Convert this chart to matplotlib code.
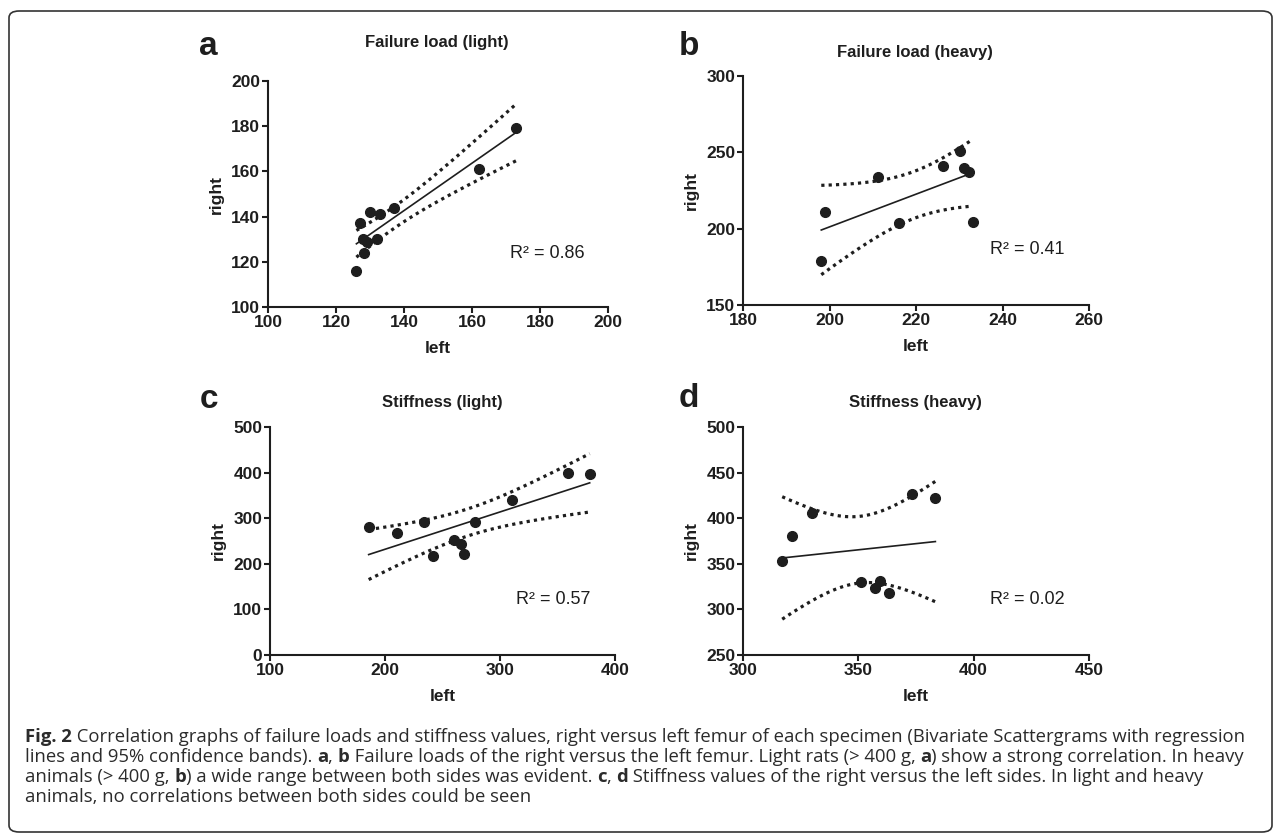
import numpy as np
import matplotlib
matplotlib.use("Agg")
import matplotlib.pyplot as plt
from matplotlib.patches import FancyBboxPatch
from matplotlib import font_manager

# ---- data ----
a_left = [126, 127, 128, 128.1, 129.2, 130, 132, 133, 137, 162, 173]
a_right = [116, 137, 130, 124, 128.8, 142, 130, 141, 144, 161, 179]

b_left = [198.1, 199.0, 211.1, 216.1, 226.2, 230.2, 231.0, 232.3, 233.1]
b_right = [178.8, 210.7, 233.8, 203.7, 240.8, 250.9, 240.0, 236.9, 204.6]

c_left = [185.8, 210.7, 233.9, 242, 260, 266, 269, 278, 310, 359, 378]
c_right = [281, 267, 292, 217, 252, 243, 221, 292, 339, 399, 396]

d_left = [317, 321.1, 330.1, 351, 357.2, 359.2, 363.3, 373.1, 383.4]
d_right = [353, 381, 405.5, 330, 323.5, 331, 317.5, 426, 422]

titles = ["Failure load (light)", "Failure load (heavy)", "Stiffness (light)", "Stiffness (heavy)"]
letters = ["a", "b", "c", "d"]
r2_labels = ["R\u00b2 = 0.86", "R\u00b2 = 0.41", "R\u00b2 = 0.57", "R\u00b2 = 0.02"]

a_xticks = [100, 120, 140, 160, 180, 200]
a_yticks = [100, 120, 140, 160, 180, 200]
b_xticks = [180, 200, 220, 240, 260]
b_yticks = [150, 200, 250, 300]
c_xticks = [100, 200, 300, 400]
c_yticks = [0, 100, 200, 300, 400, 500]
d_xticks = [300, 350, 400, 450]
d_yticks = [250, 300, 350, 400, 450, 500]

caption = [
    [("Fig. 2", "bold"), (" Correlation graphs of failure loads and stiffness values, right versus left femur of each specimen (Bivariate Scattergrams with regression", "normal")],
    [("lines and 95% confidence bands). ", "normal"), ("a", "bold"), (", ", "normal"), ("b", "bold"),
     (" Failure loads of the right versus the left femur. Light rats (> 400 g, ", "normal"), ("a", "bold"),
     (") show a strong correlation. In heavy", "normal")],
    [("animals (> 400 g, ", "normal"), ("b", "bold"), (") a wide range between both sides was evident. ", "normal"),
     ("c", "bold"), (", ", "normal"), ("d", "bold"),
     (" Stiffness values of the right versus the left sides. In light and heavy", "normal")],
    [("animals, no correlations between both sides could be seen", "normal")],
]

# t values (95%, two sided) for n-2 degrees of freedom
t95 = {7: 2.365, 9: 2.262}

W, H = 1281, 835
ink = "#1e1e1e"
plt.rcParams['font.family'] = ['Liberation Sans', 'DejaVu Sans']

fig = plt.figure(figsize=(W / 100, H / 100), dpi=100)


def px_rect(x0, y0, x1, y1):
    return [x0 / W, 1 - y1 / H, (x1 - x0) / W, (y1 - y0) / H]


def fit_bands(x, y):
    x = np.asarray(x, float)
    y = np.asarray(y, float)
    n = len(x)
    slope, icpt = np.polyfit(x, y, 1)
    resid = y - (icpt + slope * x)
    s = np.sqrt(np.sum(resid ** 2) / (n - 2))
    sxx = np.sum((x - x.mean()) ** 2)
    xs = np.linspace(x.min(), x.max(), 120)
    yfit = icpt + slope * xs
    half = t95[n - 2] * s * np.sqrt(1.0 / n + (xs - x.mean()) ** 2 / sxx)
    return xs, yfit, yfit - half, yfit + half


panels = [
    (a_left, a_right, a_xticks, a_yticks, (268, 81, 608, 307)),
    (b_left, b_right, b_xticks, b_yticks, (743, 76, 1089, 305)),
    (c_left, c_right, c_xticks, c_yticks, (270, 427, 615, 655)),
    (d_left, d_right, d_xticks, d_yticks, (743, 427, 1089, 655)),
]
title_pos = [(437, 42), (915, 52), (442, 402), (915, 402)]
letter_pos = [(199, 55), (679, 55), (200, 408), (679, 407)]
r2_pos = [(547, 253), (1027, 250), (553, 600), (1027, 600)]

for i, (xv, yv, xt, yt, box) in enumerate(panels):
    ax = fig.add_axes(px_rect(*box))
    xs, yfit, lo, hi = fit_bands(xv, yv)
    ax.plot(xs, lo, color=ink, lw=2.3, linestyle=(0, (1.0, 1.3)))
    ax.plot(xs, hi, color=ink, lw=2.3, linestyle=(0, (1.0, 1.3)))
    ax.plot(xs, yfit, color=ink, lw=1.2)
    ax.plot(xv, yv, 'o', color=ink, ms=7, mec=ink)
    ax.set_xlim(xt[0], xt[-1])
    ax.set_ylim(yt[0], yt[-1])
    ax.set_xticks(xt)
    ax.set_yticks(yt)
    for sp in ['top', 'right']:
        ax.spines[sp].set_visible(False)
    for sp in ['left', 'bottom']:
        ax.spines[sp].set_linewidth(1.5)
        ax.spines[sp].set_color(ink)
    ax.tick_params(direction='out', length=4, width=1.5, colors=ink, labelsize=12.5, pad=1.5)
    for lab in ax.get_xticklabels() + ax.get_yticklabels():
        lab.set_fontweight('bold')
    ax.set_xlabel("left", fontsize=12.5, fontweight='bold', color=ink)
    ax.set_ylabel("right", fontsize=12.5, fontweight='bold', color=ink)
    bw = box[2] - box[0]
    bh = box[3] - box[1]
    ax.xaxis.set_label_coords(0.5, -34.0 / bh)
    ax.yaxis.set_label_coords(-44.0 / bw, 0.5)
    ax.patch.set_alpha(0)

    tx, ty = title_pos[i]
    fig.text(tx / W, 1 - ty / H, titles[i], ha='center', va='center', fontsize=12,
             fontweight='bold', color=ink)
    lx, ly = letter_pos[i]
    fig.text(lx / W, 1 - ly / H, letters[i], ha='left', va='baseline', fontsize=24,
             fontweight='bold', color=ink)
    rx, ry = r2_pos[i]
    fig.text(rx / W, 1 - ry / H, r2_labels[i], ha='center', va='center', fontsize=13, color=ink)

# ---- caption with mixed bold words ----
names = {f.name for f in font_manager.fontManager.ttflist}
cap_family = 'Open Sans' if 'Open Sans' in names else 'DejaVu Sans'
renderer = fig.canvas.get_renderer()


def seg_width(s, size, weight):
    t1 = fig.text(0, 0, "|" + s + "|", fontsize=size, fontweight=weight, family=cap_family)
    w1 = t1.get_window_extent(renderer).width
    t1.remove()
    t0 = fig.text(0, 0, "||", fontsize=size, fontweight=weight, family=cap_family)
    w0 = t0.get_window_extent(renderer).width
    t0.remove()
    return w1 - w0


# size the caption so the first line spans like the original
target = 1212.0
base = 12.0
w_line = sum(seg_width(s, base, wt) for s, wt in caption[0])
cap_size = base * target / w_line

cap_x0 = 25
cap_y = [737, 757, 777, 797]
cap_col = "#2b2b2b"
for line, yc in zip(caption, cap_y):
    x = cap_x0
    for s, wt in line:
        fig.text(x / W, 1 - yc / H, s, ha='left', va='center', fontsize=cap_size,
                 fontweight=wt, family=cap_family, color=cap_col)
        x += seg_width(s, cap_size, wt)

# rounded frame around the whole figure
frame = FancyBboxPatch((9 / W, 1 - 832 / H), (1272 - 9) / W, (832 - 11) / H,
                       boxstyle="round,pad=0,rounding_size=0.008", transform=fig.transFigure,
                       fill=False, lw=1.2, ec="#333333")
fig.patches.append(frame)

fig.savefig("out.png", dpi=100)
